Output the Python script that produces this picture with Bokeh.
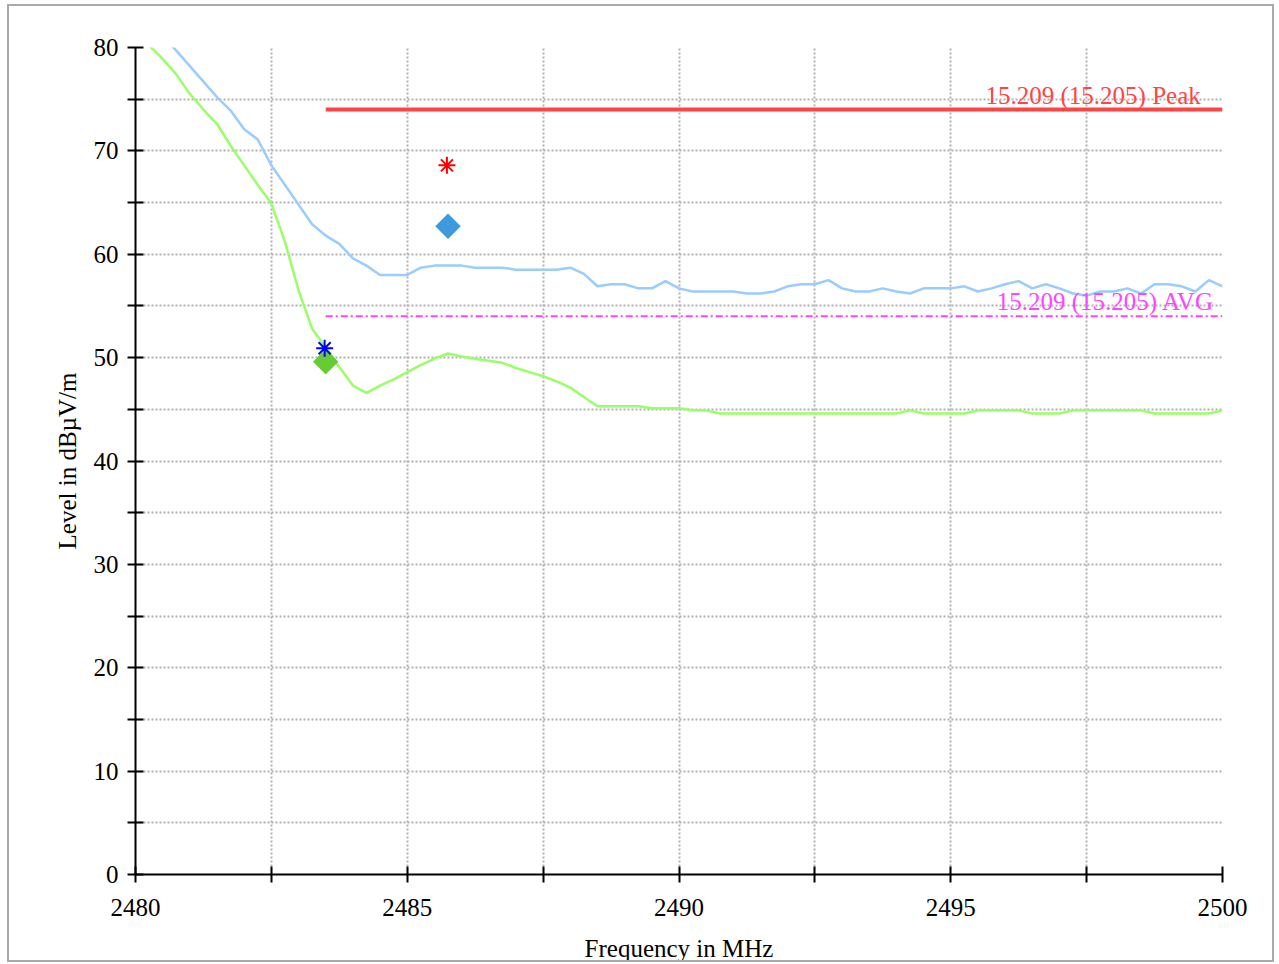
from bokeh.plotting import figure
from bokeh.models import Range1d, FixedTicker
from bokeh.core.properties import value
from bokeh.embed import file_html
from bokeh.resources import INLINE
import math

FONT = "Liberation Serif"

# Peak trace (light blue)
peak_freq = [2480.50, 2480.75, 2481.00, 2481.25, 2481.50, 2481.75, 2482.00, 2482.25,
             2482.50, 2482.75, 2483.00, 2483.25, 2483.50, 2483.75, 2484.00, 2484.25,
             2484.50, 2484.75, 2485.00, 2485.25, 2485.50, 2485.75, 2486.00, 2486.25,
             2486.50, 2486.75, 2487.00, 2487.25, 2487.50, 2487.75, 2488.00, 2488.25,
             2488.50, 2488.75, 2489.00, 2489.25, 2489.50, 2489.75, 2490.00, 2490.25,
             2490.50, 2490.75, 2491.00, 2491.25, 2491.50, 2491.75, 2492.00, 2492.25,
             2492.50, 2492.75, 2493.00, 2493.25, 2493.50, 2493.75, 2494.00, 2494.25,
             2494.50, 2494.75, 2495.00, 2495.25, 2495.50, 2495.75, 2496.00, 2496.25,
             2496.50, 2496.75, 2497.00, 2497.25, 2497.50, 2497.75, 2498.00, 2498.25,
             2498.50, 2498.75, 2499.00, 2499.25, 2499.50, 2499.75, 2500.00]
peak_level = [81.2, 79.7, 78.2, 76.7, 75.2, 73.9, 72.1, 71.1,
              68.6, 66.7, 64.8, 62.9, 61.8, 61.0, 59.6, 58.9,
              58.0, 58.0, 58.0, 58.7, 58.9, 58.9, 58.9, 58.7,
              58.7, 58.7, 58.5, 58.5, 58.5, 58.5, 58.7, 58.1,
              56.9, 57.1, 57.1, 56.7, 56.7, 57.4, 56.7, 56.4,
              56.4, 56.4, 56.4, 56.2, 56.2, 56.4, 56.9, 57.1,
              57.1, 57.5, 56.7, 56.4, 56.4, 56.7, 56.4, 56.2,
              56.7, 56.7, 56.7, 56.9, 56.4, 56.7, 57.1, 57.4,
              56.7, 57.1, 56.7, 56.2, 56.0, 56.4, 56.4, 56.7,
              56.2, 57.1, 57.1, 56.9, 56.4, 57.5, 56.9]

# Average trace (light green)
avg_freq = [2480.00, 2480.25, 2480.50, 2480.75, 2481.00, 2481.25, 2481.50, 2481.75,
            2482.00, 2482.25, 2482.50, 2482.75, 2483.00, 2483.25, 2483.50, 2483.75,
            2484.00, 2484.25, 2484.50, 2484.75, 2485.00, 2485.25, 2485.50, 2485.75,
            2486.00, 2486.25, 2486.50, 2486.75, 2487.00, 2487.25, 2487.50, 2487.75,
            2488.00, 2488.25, 2488.50, 2488.75, 2489.00, 2489.25, 2489.50, 2489.75,
            2490.00, 2490.25, 2490.50, 2490.75, 2491.00, 2491.25, 2491.50, 2491.75,
            2492.00, 2492.25, 2492.50, 2492.75, 2493.00, 2493.25, 2493.50, 2493.75,
            2494.00, 2494.25, 2494.50, 2494.75, 2495.00, 2495.25, 2495.50, 2495.75,
            2496.00, 2496.25, 2496.50, 2496.75, 2497.00, 2497.25, 2497.50, 2497.75,
            2498.00, 2498.25, 2498.50, 2498.75, 2499.00, 2499.25, 2499.50, 2499.75,
            2500.00]
avg_level = [81.5, 80.2, 78.9, 77.4, 75.5, 74.0, 72.6, 70.5,
             68.6, 66.7, 64.9, 61.2, 56.5, 52.8, 51.0, 49.1,
             47.3, 46.6, 47.3, 47.9, 48.6, 49.3, 49.9, 50.4,
             50.1, 49.9, 49.7, 49.5, 49.0, 48.6, 48.2, 47.7,
             47.1, 46.2, 45.3, 45.3, 45.3, 45.3, 45.1, 45.1,
             45.1, 44.9, 44.9, 44.6, 44.6, 44.6, 44.6, 44.6,
             44.6, 44.6, 44.6, 44.6, 44.6, 44.6, 44.6, 44.6,
             44.6, 44.9, 44.6, 44.6, 44.6, 44.6, 44.9, 44.9,
             44.9, 44.9, 44.6, 44.6, 44.6, 44.9, 44.9, 44.9,
             44.9, 44.9, 44.9, 44.6, 44.6, 44.6, 44.6, 44.6,
             44.9]

# Limit lines
limit_names = ["15.209 (15.205) Peak", "15.209 (15.205) AVG"]
limit_levels = [74, 54]
limit_start = [2483.5, 2483.5]
limit_end = [2500, 2500]

# Final measurement markers
peak_marker_freq = [2485.73, 2483.48]
peak_marker_level = [68.6, 50.9]
avg_marker_freq = [2485.75, 2483.5]
avg_marker_level = [62.7, 49.6]

x_ticks = [2480, 2482.5, 2485, 2487.5, 2490, 2492.5, 2495, 2497.5, 2500]
x_tick_labels = ["2480", "", "2485", "", "2490", "", "2495", "", "2500"]
y_ticks = [0, 5, 10, 15, 20, 25, 30, 35, 40, 45, 50, 55, 60, 65, 70, 75, 80]
y_tick_labels = ["0", "", "10", "", "20", "", "30", "", "40", "", "50", "", "60", "", "70", "", "80"]

p = figure(width=1267, height=958,
           x_range=Range1d(2480, 2500), y_range=Range1d(0, 80),
           output_backend="svg", toolbar_location=None,
           min_border_left=126, min_border_right=54, min_border_top=41, min_border_bottom=89,
           x_axis_label="Frequency in MHz", y_axis_label="Level in dB\u00b5V/m")
p.styles = {"border": "2px solid #aaaaaa", "margin-left": "7px", "margin-top": "4px"}
p.outline_line_color = None
p.background_fill_color = "white"
p.border_fill_color = "white"

for ax, ticks, labels in ((p.xaxis[0], x_ticks, x_tick_labels), (p.yaxis[0], y_ticks, y_tick_labels)):
    ax.ticker = FixedTicker(ticks=ticks)
    ax.major_label_overrides = dict(zip(ticks, labels))
    ax.axis_line_color = "black"
    ax.axis_line_width = 2
    ax.major_tick_line_color = "black"
    ax.major_tick_line_width = 2
    ax.major_tick_in = 8
    ax.major_tick_out = 8
    ax.minor_tick_line_color = None
    ax.major_label_text_font = FONT
    ax.major_label_text_font_size = "25px"
    ax.major_label_text_color = "black"
    ax.axis_label_text_font = FONT
    ax.axis_label_text_font_size = "25px"
    ax.axis_label_text_font_style = "normal"
    ax.axis_label_text_color = "black"

p.xaxis[0].major_label_standoff = 16
p.xaxis[0].axis_label_standoff = 16
p.yaxis[0].major_label_standoff = 9
p.yaxis[0].axis_label_standoff = 10

p.xgrid.ticker = FixedTicker(ticks=x_ticks)
p.ygrid.ticker = FixedTicker(ticks=y_ticks)
for g in (p.xgrid, p.ygrid):
    g.grid_line_color = "#b0b0b0"
    g.grid_line_dash = "2 2"
    g.grid_line_width = 2

# traces
p.line(peak_freq, peak_level, line_color="#99ccff", line_width=2.5)
p.line(avg_freq, avg_level, line_color="#99ff66", line_width=2.5)

# limit lines
p.segment(x0=limit_start[:1], y0=limit_levels[:1], x1=limit_end[:1], y1=limit_levels[:1],
          line_color="#ff4444", line_width=4)
p.segment(x0=limit_start[1:], y0=limit_levels[1:], x1=limit_end[1:], y1=limit_levels[1:],
          line_color="#ff44ff", line_width=2, line_dash="7 3 2 3")

label_x = [2499.6, 2499.85]
p.text(x=label_x, y=limit_levels, text=limit_names,
       text_color=["#ff4444", "#ff44ff"], text_align="right", text_baseline="alphabetic",
       y_offset=-14.5, text_font=value(FONT), text_font_size="25px")

# markers
p.scatter(avg_marker_freq, avg_marker_level, marker="square", angle=math.pi / 4, size=18,
          fill_color=["#3f99dd", "#66cc33"], line_color=None)
p.scatter(peak_marker_freq, peak_marker_level, marker="asterisk", size=17,
          line_color=["#ff0000", "#0000ff"], line_width=2)

open("out.html", "w").write(file_html(p, INLINE))
